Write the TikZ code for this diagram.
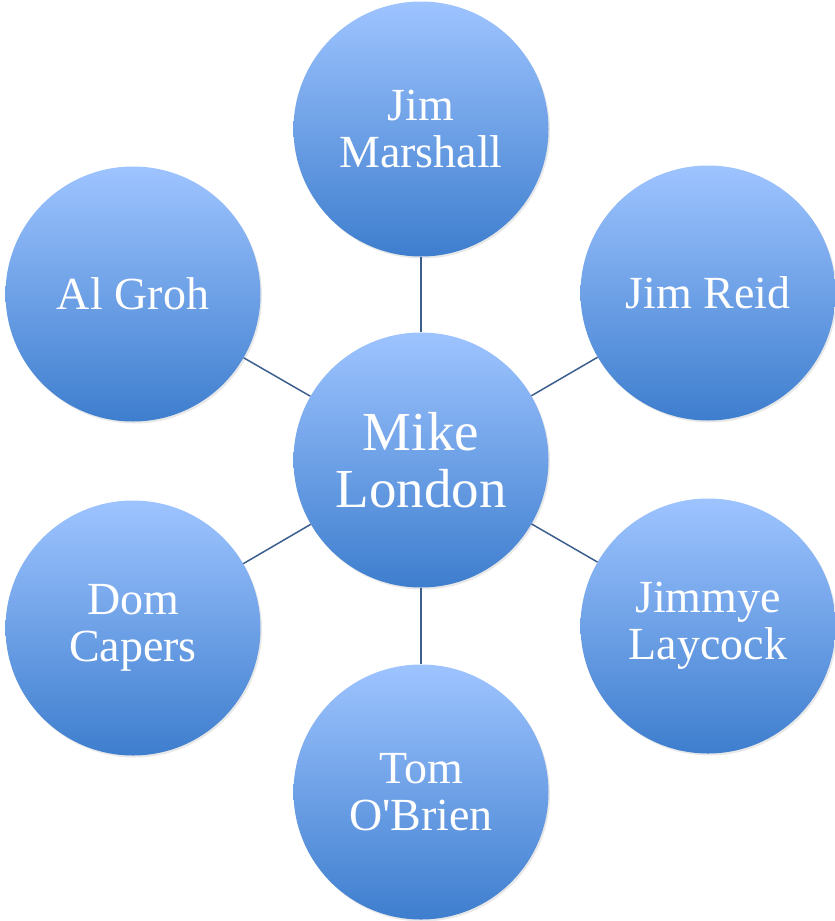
\documentclass[tikz,border=0pt]{standalone}
\usepackage{fontspec}
\setmainfont{Liberation Serif}
\usetikzlibrary{shadows}
\definecolor{disc-top}{RGB}{158,196,255}
\definecolor{disc-bottom}{RGB}{62,126,206}
\definecolor{spoke}{RGB}{60,95,142}

\begin{document}
\begin{tikzpicture} [x=1pt, y=-1pt,
  disc/.style={circle, minimum size=255pt, inner sep=0pt, top color=disc-top, bottom color=disc-bottom,
    text=white, align=center, font=\fontsize{46}{47}\selectfont,
    drop shadow={opacity=0.18, shadow xshift=1.5pt, shadow yshift=-2pt}},
  hub/.style={disc, font=\fontsize{55}{57}\selectfont}]%Staff wheel
\useasboundingbox (0,0) rectangle (835,921);
% centre
  \node [hub] (mike) at (421,460) {Mike\\London};
% ring
  \node [disc] (marshall) at (421,129) {Jim\\Marshall};
  \node [disc] (reid) at (708,293) {Jim Reid};
  \node [disc] (laycock) at (708,626) {Jimmye\\Laycock};
  \node [disc] (obrien) at (421,792) {Tom\\O\textquotesingle Brien};
  \node [disc] (capers) at (133,628) {Dom\\Capers};
  \node [disc] (groh) at (133,294) {Al Groh};
% spokes
\foreach \n in {marshall,reid,laycock,obrien,capers,groh}
  \draw [spoke, line width=1.5pt] (mike) -- (\n);
\end{tikzpicture}
\end{document}
